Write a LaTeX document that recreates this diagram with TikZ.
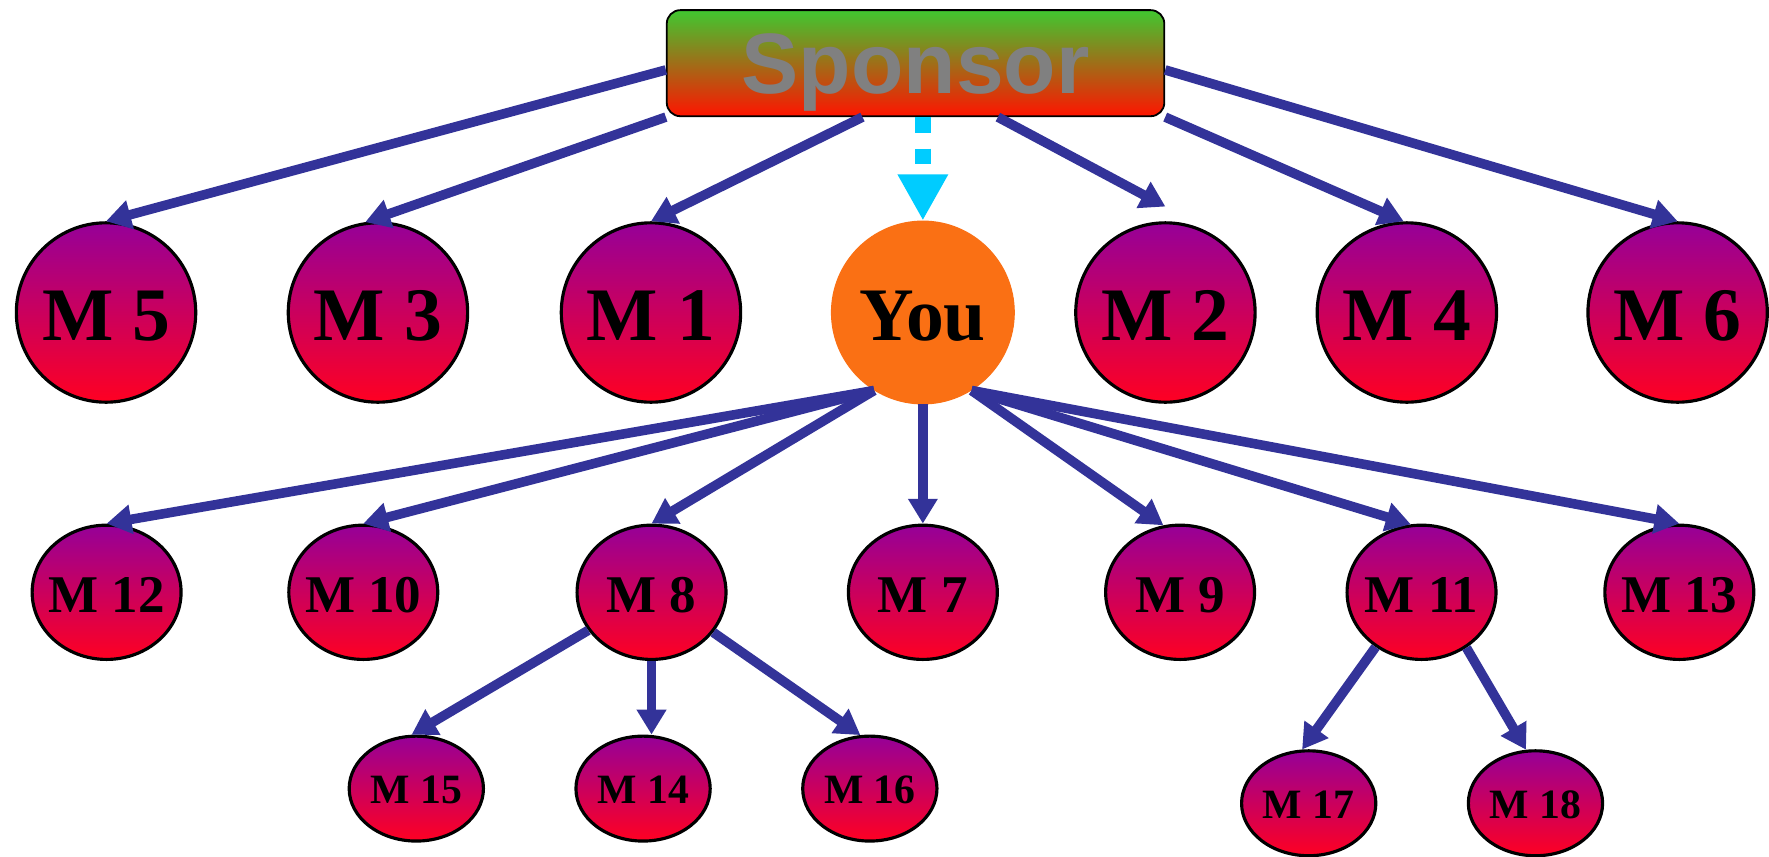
\documentclass[tikz,border=0pt]{standalone}
\usepackage{fontspec}
\setmainfont{Liberation Serif}
\newfontfamily\sponsorfont{Liberation Sans}
\usetikzlibrary{arrows.meta,shapes.geometric,calc}
\definecolor{edgeblue}{RGB}{51,51,153}
\definecolor{mtop}{RGB}{150,0,152}
\definecolor{mbot}{RGB}{255,0,34}
\definecolor{youfill}{RGB}{250,112,20}
\definecolor{cyanarrow}{RGB}{0,204,255}
\definecolor{sgreen}{RGB}{64,200,48}
\definecolor{sorange}{RGB}{205,135,36}
\definecolor{sred}{RGB}{255,20,0}
\definecolor{sgray}{RGB}{128,128,128}
\begin{document}
\begin{tikzpicture}[x=1pt,y=-1pt,
  member/.style={ellipse, draw=black, line width=2.8pt, top color=mtop, bottom color=mbot,
    inner xsep=-20pt, inner ysep=-5pt, text depth=0pt},
  bigm/.style={member, minimum width=159pt, minimum height=159pt,
    font=\fontsize{67}{67}\selectfont\bfseries, text height=50pt},
  midm/.style={member, minimum width=132pt, minimum height=119pt,
    font=\fontsize{47}{47}\selectfont\bfseries, text height=35pt},
  smallm/.style={member, minimum width=119pt, minimum height=93pt,
    font=\fontsize{37}{37}\selectfont\bfseries, text height=27pt},
  younode/.style={ellipse, draw=youfill, line width=1pt, fill=youfill,
    minimum width=162pt, minimum height=162pt, inner xsep=-20pt, inner ysep=-5pt,
    font=\fontsize{67}{67}\selectfont\bfseries, text height=50pt, text depth=0pt},
  sponsorbox/.style={rectangle, rounded corners=12pt, draw=black, line width=1.6pt,
    top color=sgreen, middle color=sorange, bottom color=sred,
    minimum width=441pt, minimum height=94pt, inner sep=0pt,
    font=\sponsorfont\fontsize{76}{76}\selectfont\bfseries, text=sgray, text depth=0pt},
  link/.style={edgeblue, line width=8.5pt,
    -{Triangle[length=22pt,width=25pt]}},
  cyanlink/.style={cyanarrow, line width=14pt, dash pattern=on 14pt off 14pt,
    -{Triangle[length=41pt,width=42pt]}},
]
\path[use as bounding box, fill=white] (0,0) rectangle (1568,759);

% nodes
\node[sponsorbox] (S) at (811.5,56) {Sponsor};

\node[bigm] (M5) at (94,277) {M 5};
\node[bigm] (M3) at (335,277) {M 3};
\node[bigm] (M1) at (577,277) {M 1};
\node[younode] (You) at (818,277) {You};
\node[bigm] (M2) at (1033,277) {M 2};
\node[bigm] (M4) at (1247,277) {M 4};
\node[bigm] (M6) at (1487,277) {M 6};

\node[midm] (M12) at (94.5,525) {M 12};
\node[midm] (M10) at (322,525) {M 10};
\node[midm] (M8) at (577.5,525) {M 8};
\node[midm] (M7) at (818,525) {M 7};
\node[midm] (M9) at (1046,525) {M 9};
\node[midm] (M11) at (1260,525) {M 11};
\node[midm] (M13) at (1488.5,525) {M 13};

\node[smallm] (M15) at (369,699) {M 15};
\node[smallm] (M14) at (570,699) {M 14};
\node[smallm] (M16) at (771,699) {M 16};
\node[smallm] (M17) at (1160,712) {M 17};
\node[smallm] (M18) at (1361,712) {M 18};

% sponsor connectors
\draw[link] ([yshift=-6pt]S.west) -- (M5.north);
\draw[link] (S.south west) -- (M3.98);
\draw[link] ([xshift=-47pt]S.south) -- (M1.north);
\draw[link] ([xshift=73pt]S.south) -- ([yshift=13pt]M2.north);
\draw[link] (S.south east) -- (M4.92);
\draw[link] ([yshift=-6pt]S.east) -- (M6.north);
\draw[cyanlink] (You.north |- S.south) -- (You.north);

% you connectors
\draw[link] (You.238.7) -- (M12.north);
\draw[link] (You.238.7) -- (M10.north);
\draw[link] (You.238.7) -- (M8.north);
\draw[link] (You.south) -- (M7.north);
\draw[link] (You.302) -- (M9.104);
\draw[link] (You.302) -- (M11.99);
\draw[link] (You.302) -- (M13.north);

% M8 connectors
\draw[link] (M8.211.3) -- (M15.95.7);
\draw[link] (M8.south) -- (M8.south |- M14.north);
\draw[link] (M8.327.5) -- (M16.100);

% M11 connectors
\draw[link] (M11.230.6) -- (M17.97);
\draw[link] (M11.309.8) -- (M18.100);
\end{tikzpicture}
\end{document}
